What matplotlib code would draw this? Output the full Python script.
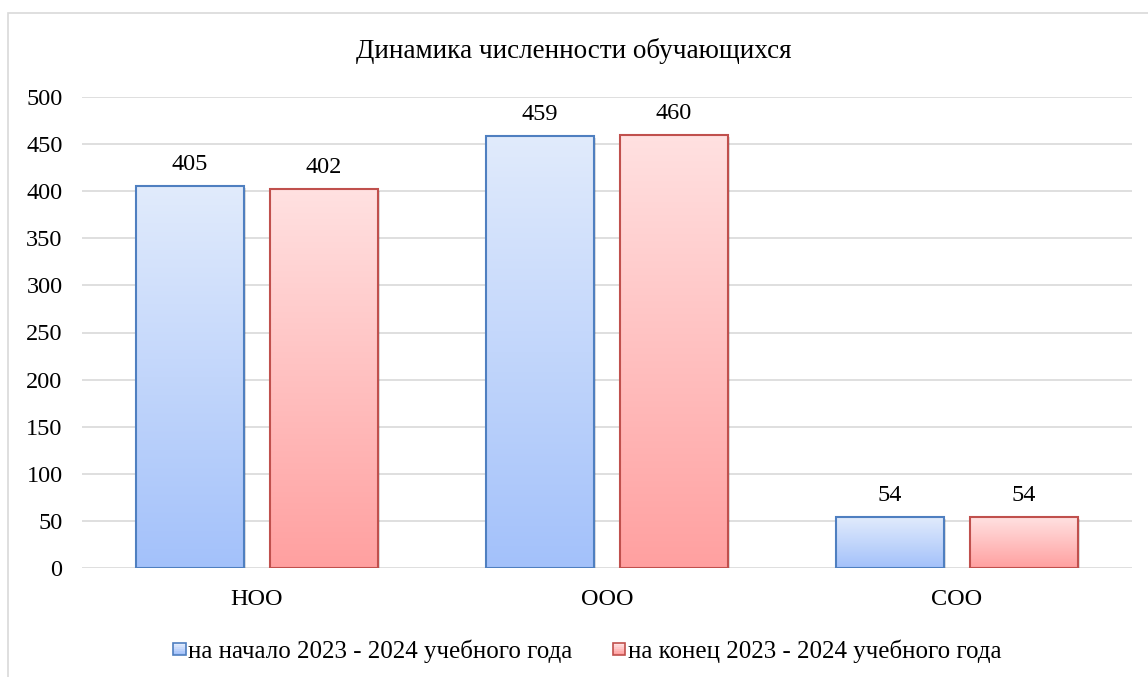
import numpy as np
import matplotlib
matplotlib.use('Agg')
import matplotlib.pyplot as plt
from matplotlib.colors import LinearSegmentedColormap
from matplotlib.patches import Rectangle
from matplotlib.legend_handler import HandlerBase

plt.rcParams['font.family'] = ['Liberation Serif', 'DejaVu Serif']

categories = ['НОО', 'ООО', 'СОО']
start_vals = [405, 459, 54]
end_vals = [402, 460, 54]
series_names = ['на начало 2023 - 2024 учебного года', 'на конец 2023 - 2024 учебного года']
yticks = [0, 50, 100, 150, 200, 250, 300, 350, 400, 450, 500]

blue_cm = LinearSegmentedColormap.from_list('b', ['#A3C1FA', '#E1EBFC'])
red_cm = LinearSegmentedColormap.from_list('r', ['#FFA0A0', '#FFE1E1'])
blue_edge = '#4F7FC0'
red_edge = '#C0504D'

fig = plt.figure(figsize=(11.48, 6.77), dpi=100)
ax = fig.add_axes([82/1148, 1-568/677, 1050/1148, 471/677])

# рамка диаграммы
fig.add_artist(Rectangle((8/1148, -0.1), 1.2, 1-13/677+0.1, transform=fig.transFigure,
                         fill=False, edgecolor='#D9D9D9', linewidth=1.2))

grad = np.linspace(0, 1, 256).reshape(-1, 1)
x = np.arange(len(categories))
w = 0.309
off = 0.191

for vals, cm, ec, sgn in [(start_vals, blue_cm, blue_edge, -1), (end_vals, red_cm, red_edge, 1)]:
    for xi, v in zip(x, vals):
        x0 = xi + sgn*off - w/2
        # тень
        ax.add_patch(Rectangle((x0 + 0.006, -2), w, v, facecolor='#000000', alpha=0.12,
                               edgecolor='none', zorder=1.5))
        ax.imshow(grad, cmap=cm, extent=[x0, x0 + w, 0, v], origin='lower',
                  aspect='auto', zorder=2)
        ax.add_patch(Rectangle((x0, 0), w, v, fill=False, edgecolor=ec, linewidth=1.5, zorder=3))
        ax.annotate(str(v), (xi + sgn*off, v), xytext=(0, 8), textcoords='offset points',
                    ha='center', va='bottom', fontsize=17.5, color='#000000')

ax.set_xlim(-0.5, 2.5)
ax.set_ylim(0, 500)
ax.set_yticks(yticks)
ax.set_xticks(x)
ax.set_xticklabels(categories)
ax.tick_params(axis='both', length=0, labelsize=17.5, colors='#000000')
ax.tick_params(axis='y', pad=14)
ax.tick_params(axis='x', pad=15)
ax.grid(axis='y', color='#D9D9D9', linewidth=1.2, zorder=0)
ax.set_axisbelow(True)
for s in ax.spines.values():
    s.set_visible(False)

fig.text(0.5, 1-51/677, 'Динамика численности обучающихся', ha='center', va='center', fontsize=19.5)


class GradHandler(HandlerBase):
    def __init__(self, cm, ec):
        super().__init__()
        self.cm = cm
        self.ec = ec

    def create_artists(self, legend, orig, xd, yd, width, height, fontsize, trans):
        s = 9
        cx = xd + width - s
        cy = yd + height/2 - s/2
        arts = []
        n = 6
        for i in range(n):
            arts.append(Rectangle((cx, cy + i*s/n), s, s/n, facecolor=self.cm(i/(n-1)),
                                  edgecolor='none', transform=trans))
        arts.append(Rectangle((cx, cy), s, s, fill=False, edgecolor=self.ec, linewidth=1.2,
                              transform=trans))
        return arts


h1 = Rectangle((0, 0), 1, 1)
h2 = Rectangle((0, 0), 1, 1)
fig.legend([h1, h2], series_names, loc='center', bbox_to_anchor=(586/1148, 1-651/677),
           ncol=2, frameon=False, fontsize=18, handlelength=0.6, handletextpad=0.1,
           columnspacing=1.5,
           handler_map={h1: GradHandler(blue_cm, blue_edge), h2: GradHandler(red_cm, red_edge)})

fig.savefig('out.png', dpi=100)
